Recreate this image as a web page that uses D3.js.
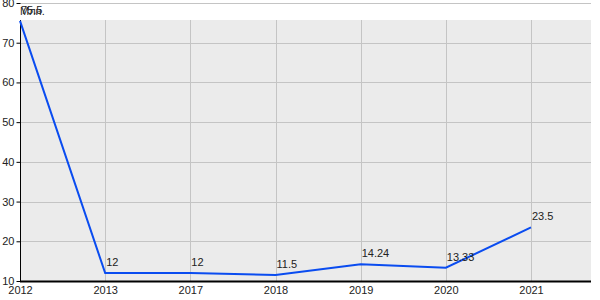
<!DOCTYPE html>
<html><head><meta charset="utf-8">
<script src="https://cdn.jsdelivr.net/npm/d3@7"></script>
<style>body{margin:0;background:#fff}svg{display:block;font-family:Arial,"Liberation Sans",sans-serif}</style>
</head><body><svg id="c" width="600" height="300"></svg>
<script>
const categories = ["2012","2013","2017","2018","2019","2020","2021"];
const values = [75.5, 12, 12, 11.5, 14.24, 13.33, 23.5];
const labels = ["75.5","12","12","11.5","14.24","13.33","23.5"];
const yTicks = [10,20,30,40,50,60,70,80];
const unitLabel = "Млн.";

const svg = d3.select("#c");
const left = 20, right = 591, bottom = 281, bgTop = 20;
const x = d3.scalePoint().domain(categories).range([left, 531]);
const y = d3.scaleLinear().domain([10, 80]).range([bottom, 3]);

svg.append("rect").attr("x", left).attr("y", bgTop).attr("width", right-left).attr("height", bottom-bgTop).attr("fill", "#ebebeb");

// horizontal grid
svg.append("g").selectAll("line").data(yTicks.filter(d=>d>10)).join("line")
  .attr("x1", left).attr("x2", right).attr("y1", d=>Math.round(y(d))+0.5).attr("y2", d=>Math.round(y(d))+0.5)
  .attr("stroke", "#c4c4c4").attr("stroke-width", 1);
// vertical grid
svg.append("g").selectAll("line").data(categories.slice(1)).join("line")
  .attr("x1", d=>Math.round(x(d))+0.5).attr("x2", d=>Math.round(x(d))+0.5).attr("y1", bgTop).attr("y2", bottom)
  .attr("stroke", "#c4c4c4").attr("stroke-width", 1);

// y axis
const ya = svg.append("g").attr("transform", `translate(${left+0.5},0)`)
  .call(d3.axisLeft(y).tickValues(yTicks).tickSize(4).tickPadding(2).tickFormat(d3.format("d")));
ya.select(".domain").remove();
ya.selectAll(".tick line").attr("stroke", "#000");
ya.selectAll("text").attr("font-size", 11).attr("fill", "#222").attr("font-family", "Arial,'Liberation Sans',sans-serif");
svg.append("line").attr("x1", left+0.5).attr("x2", left+0.5).attr("y1", bgTop).attr("y2", bottom+1).attr("stroke", "#000");

// x axis
const xa = svg.append("g").attr("transform", `translate(0,${bottom+0.5})`)
  .call(d3.axisBottom(x).tickSize(0).tickPadding(5));
xa.select(".domain").remove();
xa.selectAll("text").attr("font-size", 11).attr("fill", "#222").attr("font-family", "Arial,'Liberation Sans',sans-serif");
svg.append("line").attr("x1", left).attr("x2", right).attr("y1", bottom+0.5).attr("y2", bottom+0.5).attr("stroke", "#000").attr("stroke-width", 2);

// line
const data = categories.map((c,i)=>({c, v: values[i], l: labels[i]}));
svg.append("path").datum(data)
  .attr("d", d3.line().x(d=>x(d.c)).y(d=>y(d.v)))
  .attr("fill", "none").attr("stroke", "#0a4cf0").attr("stroke-width", 2);

// labels
svg.append("g").selectAll("text").data(data).join("text")
  .attr("x", d=>x(d.c)+1).attr("y", d=>y(d.v)-7)
  .attr("font-size", 11).attr("fill", "#222").text(d=>d.l);

svg.append("text").attr("x", 20).attr("y", 15).attr("font-size", 11).attr("fill", "#222").text(unitLabel);
</script></body></html>
